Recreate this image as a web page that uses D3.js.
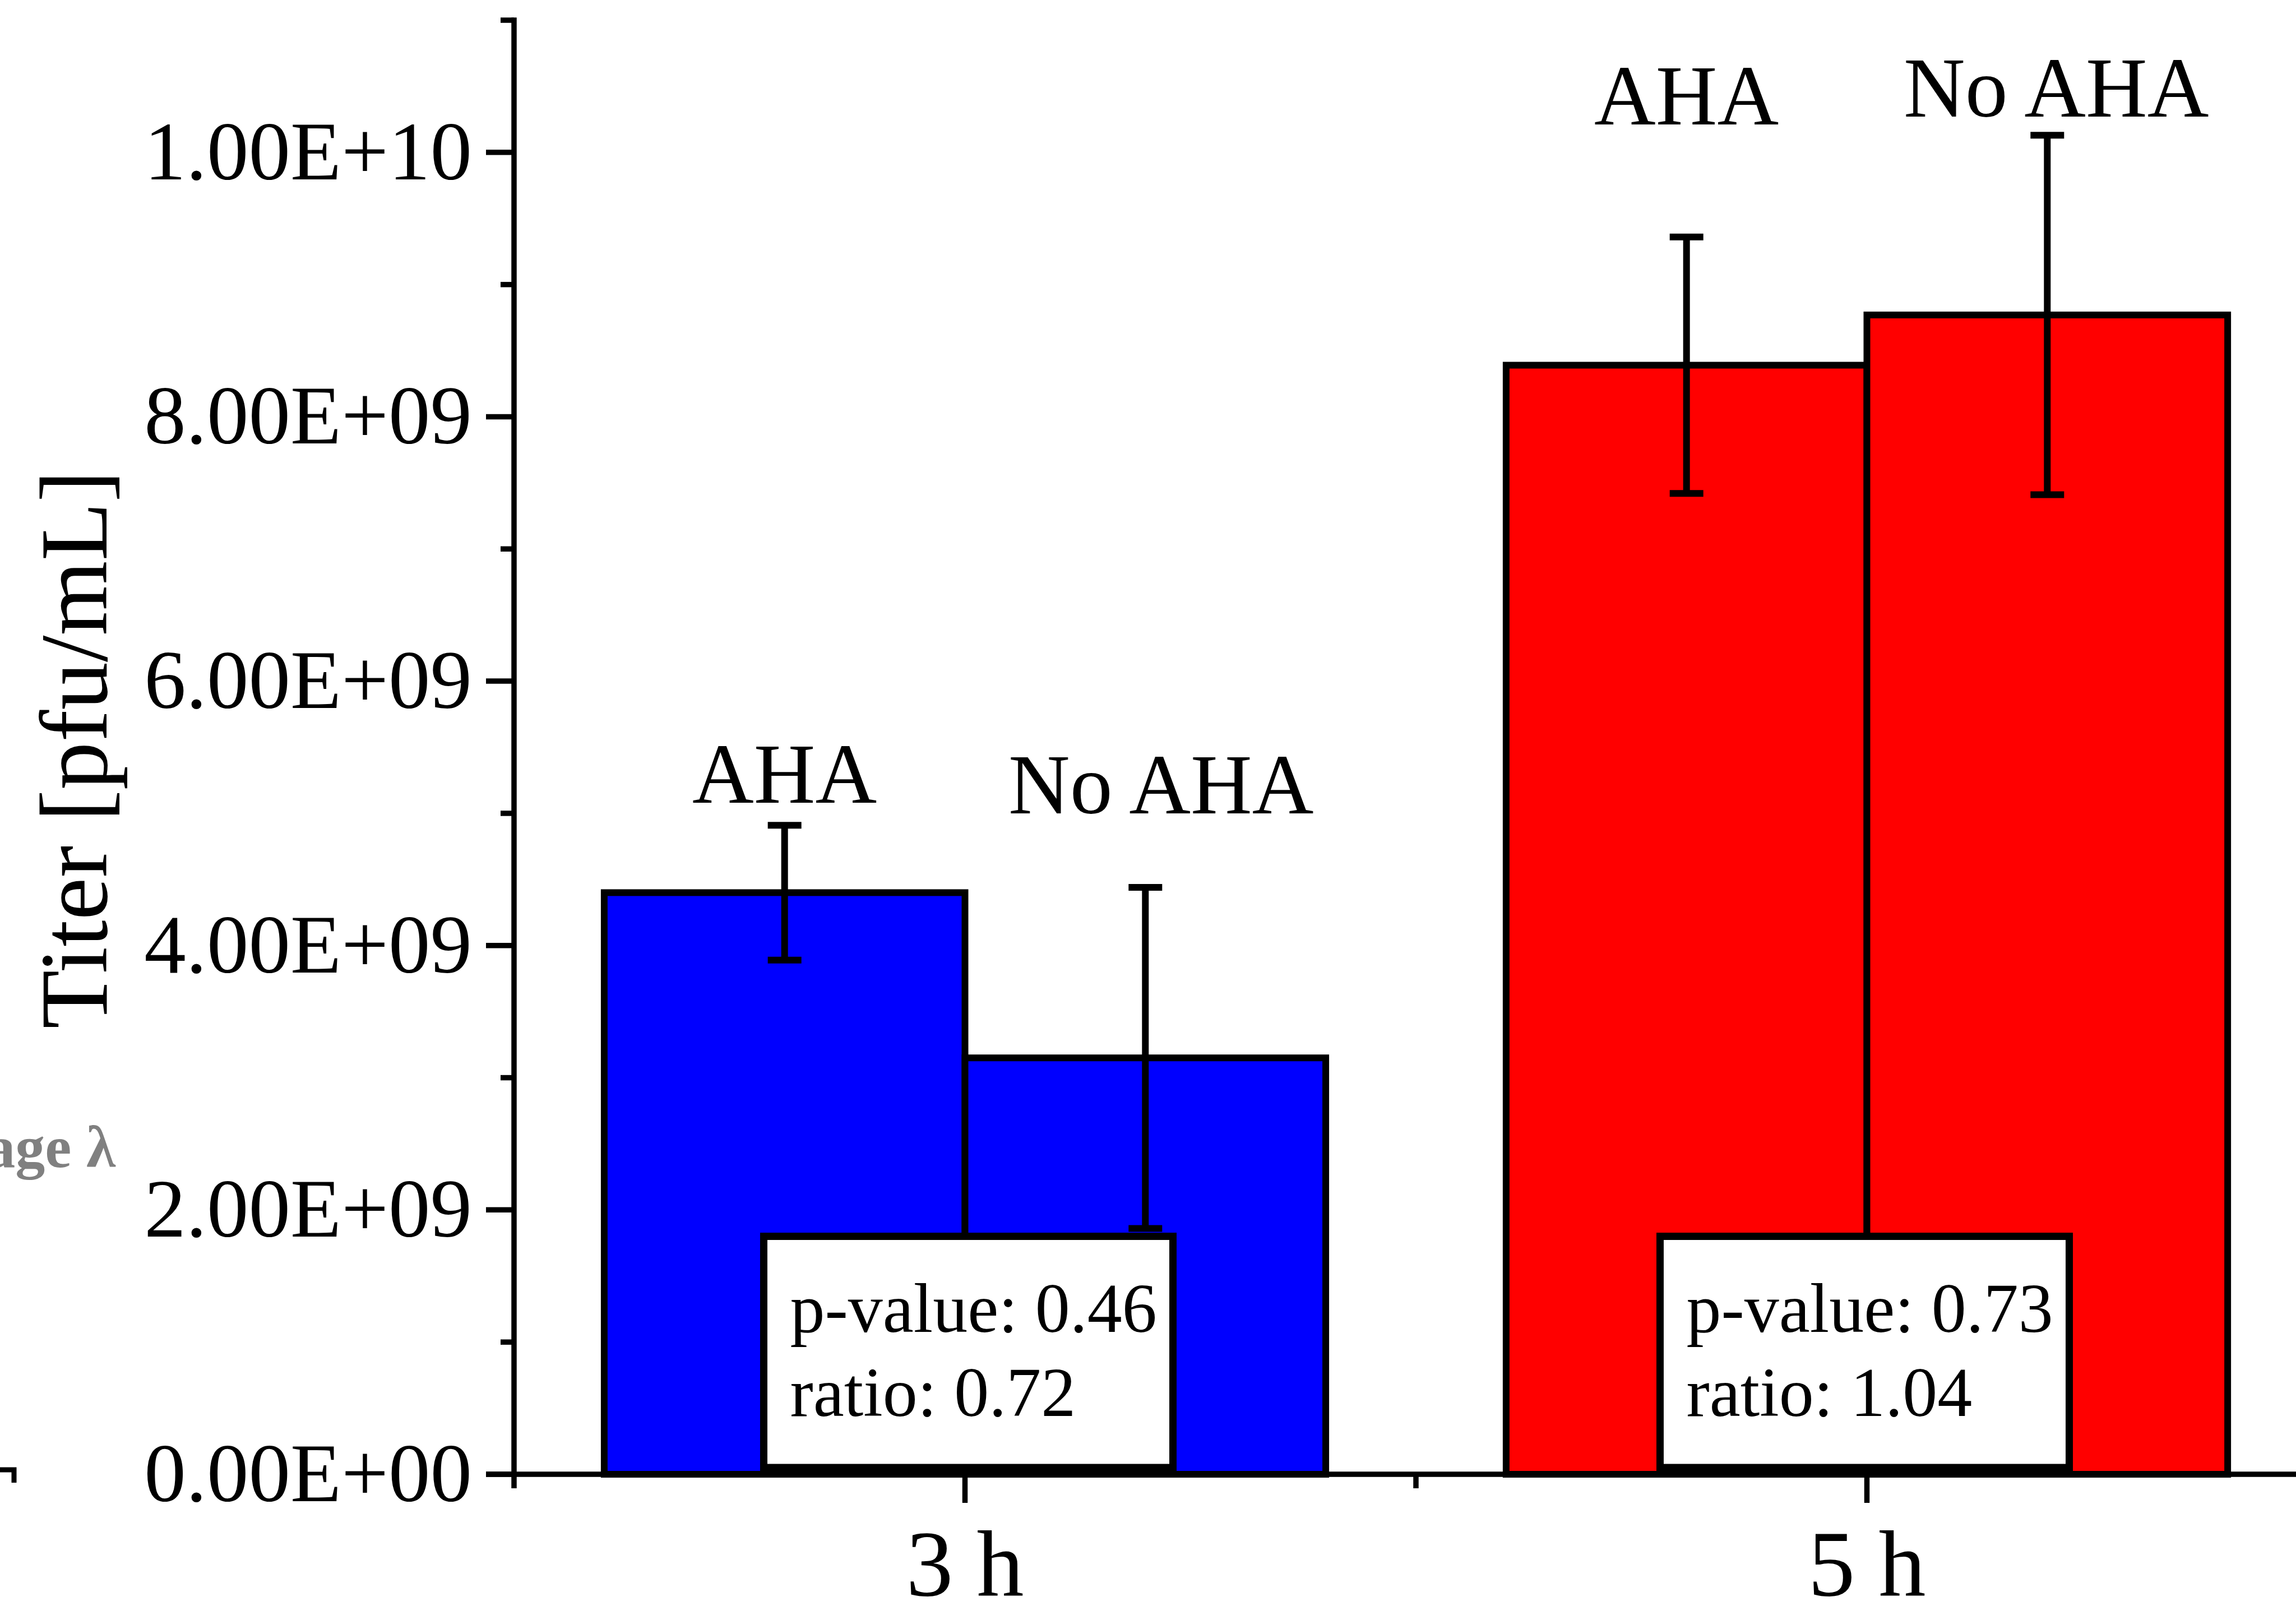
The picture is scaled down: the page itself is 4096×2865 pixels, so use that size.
<!DOCTYPE html>
<html>
<head>
<meta charset="utf-8">
<script src="https://cdn.jsdelivr.net/npm/d3@7"></script>
<style>
  html, body { margin: 0; padding: 0; background: #fff; }
  svg { display: block; }
  text { font-family: "Liberation Serif", "Times New Roman", serif; fill: #000; }
</style>
</head>
<body>
<div id="chart"></div>
<script>
// data
var categories = ["3 h", "5 h"];
var groups = ["AHA", "No AHA"];
var titer = [[4.40e9, 3.15e9], [8.39e9, 8.77e9]];
var titerErr = [[0.51e9, 1.29e9], [0.97e9, 1.36e9]];
var pValues = [0.46, 0.73];
var ratios = [0.72, 1.04];
var barColors = ["#0000ff", "#ff0000"];
var yMajorTicks = [0, 2e9, 4e9, 6e9, 8e9, 1e10];
var yMinorTicks = [1e9, 3e9, 5e9, 7e9, 9e9, 1.1e10];
// where the group labels sit (data units) and their nudge sideways
var labelAt = [[5.08e9, 5.0e9], [10.21e9, 10.27e9]];
var labelDx = [[0, 28], [0, 16]];
var boxDx = [6, -4];

var width = 4096, height = 2865;
var axisX = 917, axisY = 2630, topY = 36;
var axisW = 9.5, barW = 12, errW = 12;

var svg = d3.select("#chart").append("svg")
    .attr("width", width)
    .attr("height", height);
svg.append("rect").attr("width", width).attr("height", height).attr("fill", "#fff");

var y = d3.scaleLinear().domain([0, 1.1e10]).range([axisY, topY]);
var x = d3.scaleBand().domain(categories).range([axisX, axisX + 2 * 1609]);
var xs = d3.scaleBand().domain(groups).range([0, x.bandwidth()]).paddingInner(0).paddingOuter(0.25);

function sci(v) {
    if (v === 0) return "0.00E+00";
    var e = Math.floor(Math.log10(v));
    var m = v / Math.pow(10, e);
    return m.toFixed(2) + "E+" + String(e).padStart(2, "0");
}
function translate(a, b) { return "translate(" + a + "," + b + ")"; }

// bars
var catGroup = svg.append("g").selectAll("g")
    .data(categories)
    .enter().append("g")
    .attr("transform", function (c) { return translate(x(c), 0); });

function rows(c, i) {
    return groups.map(function (g, j) { return { g: g, ci: i, gi: j, v: titer[i][j], e: titerErr[i][j] }; });
}

catGroup.selectAll("rect")
    .data(rows)
    .enter().append("rect")
    .attr("x", function (d) { return xs(d.g); })
    .attr("width", xs.bandwidth())
    .attr("y", function (d) { return y(d.v); })
    .attr("height", function (d) { return y(0) - y(d.v); })
    .attr("fill", function (d) { return barColors[d.ci]; })
    .attr("stroke", "#000")
    .attr("stroke-width", barW);

// error bars
var errG = catGroup.selectAll("g.err")
    .data(rows)
    .enter().append("g")
    .attr("class", "err")
    .attr("transform", function (d) { return translate(xs(d.g) + xs.bandwidth() / 2, 0); });
errG.append("line")
    .attr("y1", function (d) { return y(d.v + d.e); })
    .attr("y2", function (d) { return y(d.v - d.e); })
    .attr("stroke", "#000").attr("stroke-width", errW);
errG.selectAll("line.cap")
    .data(function (d) { return [d.v + d.e, d.v - d.e]; })
    .enter().append("line")
    .attr("class", "cap")
    .attr("x1", -30).attr("x2", 30)
    .attr("y1", function (v) { return y(v); })
    .attr("y2", function (v) { return y(v); })
    .attr("stroke", "#000").attr("stroke-width", errW);

// group labels
catGroup.selectAll("text.grp")
    .data(rows)
    .enter().append("text")
    .attr("class", "grp")
    .attr("x", function (d) { return xs(d.g) + xs.bandwidth() / 2 + labelDx[d.ci][d.gi]; })
    .attr("y", function (d) { return y(labelAt[d.ci][d.gi]); })
    .attr("text-anchor", "middle")
    .attr("font-size", 152)
    .text(function (d) { return d.g; });

// p-value boxes
var boxW = 730, boxTop = y(1.8e9), boxBottom = y(0) - 12;
var boxG = catGroup.append("g")
    .attr("transform", function (c, i) { return translate(x.bandwidth() / 2 - boxW / 2 + boxDx[i], boxTop); });
boxG.append("rect")
    .attr("width", boxW)
    .attr("height", boxBottom - boxTop)
    .attr("fill", "#fff")
    .attr("stroke", "#000")
    .attr("stroke-width", 13);
boxG.append("text")
    .attr("x", 47).attr("y", 170)
    .attr("font-size", 124)
    .text(function (c, i) { return "p-value: " + pValues[i].toFixed(2); });
boxG.append("text")
    .attr("x", 47).attr("y", 320)
    .attr("font-size", 124)
    .text(function (c, i) { return "ratio: " + ratios[i].toFixed(2); });

// y axis
var yAxis = svg.append("g");
yAxis.append("line")
    .attr("x1", axisX).attr("x2", axisX)
    .attr("y1", y(0)).attr("y2", y(1.1e10))
    .attr("stroke", "#000").attr("stroke-width", axisW).attr("stroke-linecap", "square");
yAxis.selectAll("line.maj")
    .data(yMajorTicks).enter().append("line")
    .attr("class", "maj")
    .attr("x1", axisX - 50).attr("x2", axisX)
    .attr("y1", function (d) { return y(d); }).attr("y2", function (d) { return y(d); })
    .attr("stroke", "#000").attr("stroke-width", axisW);
yAxis.selectAll("line.min")
    .data(yMinorTicks).enter().append("line")
    .attr("class", "min")
    .attr("x1", axisX - 24).attr("x2", axisX)
    .attr("y1", function (d) { return y(d); }).attr("y2", function (d) { return y(d); })
    .attr("stroke", "#000").attr("stroke-width", axisW);
yAxis.selectAll("text")
    .data(yMajorTicks).enter().append("text")
    .attr("transform", function (d) { return translate(842, y(d) + 48); })
    .attr("text-anchor", "end")
    .attr("font-size", 149)
    .text(sci);

// x axis
var xEnd = x.range()[1];
var xAxis = svg.append("g");
xAxis.append("line")
    .attr("x1", axisX - 50).attr("x2", xEnd)
    .attr("y1", axisY).attr("y2", axisY)
    .attr("stroke", "#000").attr("stroke-width", axisW);
xAxis.selectAll("line.maj")
    .data(categories).enter().append("line")
    .attr("class", "maj")
    .attr("x1", function (c) { return x(c) + x.bandwidth() / 2; })
    .attr("x2", function (c) { return x(c) + x.bandwidth() / 2; })
    .attr("y1", axisY).attr("y2", axisY + 51)
    .attr("stroke", "#000").attr("stroke-width", axisW);
var bounds = categories.map(function (c) { return x(c); }).concat([xEnd]);
xAxis.selectAll("line.min")
    .data(bounds).enter().append("line")
    .attr("class", "min")
    .attr("x1", function (d) { return d; }).attr("x2", function (d) { return d; })
    .attr("y1", axisY).attr("y2", axisY + 25)
    .attr("stroke", "#000").attr("stroke-width", axisW);
xAxis.selectAll("text")
    .data(categories).enter().append("text")
    .attr("x", function (c) { return x(c) + x.bandwidth() / 2; })
    .attr("y", 2846)
    .attr("text-anchor", "middle")
    .attr("font-size", 168)
    .text(function (c) { return c; });

// axis title
svg.append("text")
    .attr("transform", translate(190, 1337) + " rotate(-90)")
    .attr("text-anchor", "middle")
    .attr("font-size", 171)
    .text("Titer [pfu/mL]");

// bits of the neighbouring panel cut off at the left edge
svg.append("text")
    .attr("x", 206).attr("y", 2082)
    .attr("text-anchor", "end")
    .attr("font-size", 106)
    .attr("font-weight", "bold")
    .style("fill", "#808080")
    .text("Phage λ");
svg.append("path")
    .attr("d", "M0,2622H25V2645")
    .attr("fill", "none")
    .attr("stroke", "#000")
    .attr("stroke-width", 9);
</script>
</body>
</html>
